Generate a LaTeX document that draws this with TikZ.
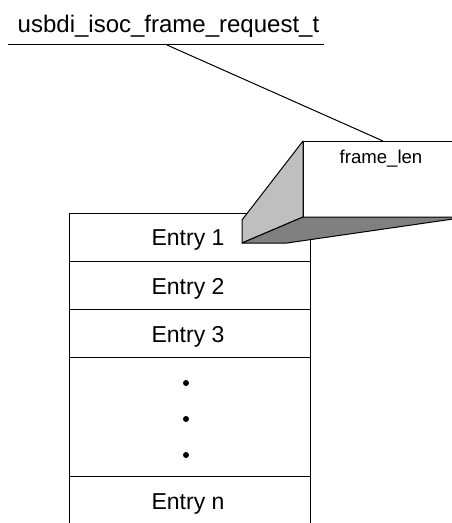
\documentclass[tikz,border=0pt]{standalone}
\usepackage{fontspec}
\setmainfont{Liberation Sans}
\begin{document}
\begin{tikzpicture}[x=1pt,y=-1pt,line width=1pt,
  lbl/.style={inner sep=0pt,anchor=base},
  entrytxt/.style={lbl,font=\fontsize{23}{27}\selectfont},
  sep/.style={draw=black,line width=1pt},
  dotmark/.style={circle,fill=black,inner sep=0pt,minimum size=6pt}]
\useasboundingbox (0,0) rectangle (451,523);
% title
\node[lbl,font=\fontsize{24}{28}\selectfont] (title) at (168.5,32) {usbdi\_isoc\_frame\_request\_t};
\coordinate (ulL) at (8,44);
\coordinate (ulR) at (324,44);
\coordinate (ulM) at (167,45);
\draw (ulL) -- (ulR);
% entries
\coordinate (bTL) at (69,213);
\coordinate (bTR) at (310,213);
\coordinate (bBL) at (69,530);
\coordinate (bBR) at (310,530);
\draw (bBL) -- (bTL) -- (bTR) -- (bBR);
\foreach \y/\n in {261/s1,309/s2,357/s3,476/s4}{
  \coordinate (\n l) at (69,\y);
  \coordinate (\n r) at (310,\y);
  \draw (\n l) -- (\n r);
}
\node[entrytxt] (e1) at (188,245) {Entry 1};
\node[entrytxt] (e2) at (188,294) {Entry 2};
\node[entrytxt] (e3) at (188,342) {Entry 3};
\node[dotmark] (d1) at (186,383) {};
\node[dotmark] (d2) at (186,419) {};
\node[dotmark] (d3) at (186,455) {};
\node[entrytxt] (en) at (188,509) {Entry n};
% 3D callout box
\coordinate (fTL) at (303,141);
\coordinate (fTR) at (460,141);
\coordinate (fBL) at (303,217);
\coordinate (fBR) at (460,217);
\coordinate (sTL) at (242,220);
\coordinate (sBL) at (242,243);
\coordinate (sBM) at (287,243);
\coordinate (sBR) at (460,218);
\fill[white] (fTL) -- (fTR) -- (fBR) -- (fBL) -- cycle;
\draw (fTR) -- (fTL) -- (fBL) -- (fBR);
\filldraw[fill=black!25,line join=round] (sBL) -- (sTL) -- (fTL) -- (fBL) -- cycle;
\filldraw[fill=black!50,line join=round] (sBL) -- (sBM) -- (sBR) -- (fBR) -- (fBL) -- cycle;
\node[lbl,font=\fontsize{18.6}{22}\selectfont] (flen) at (381,163) {frame\_len};
\coordinate (fTop) at (383,141);
\draw (ulM) -- (fTop);
\end{tikzpicture}
\end{document}
